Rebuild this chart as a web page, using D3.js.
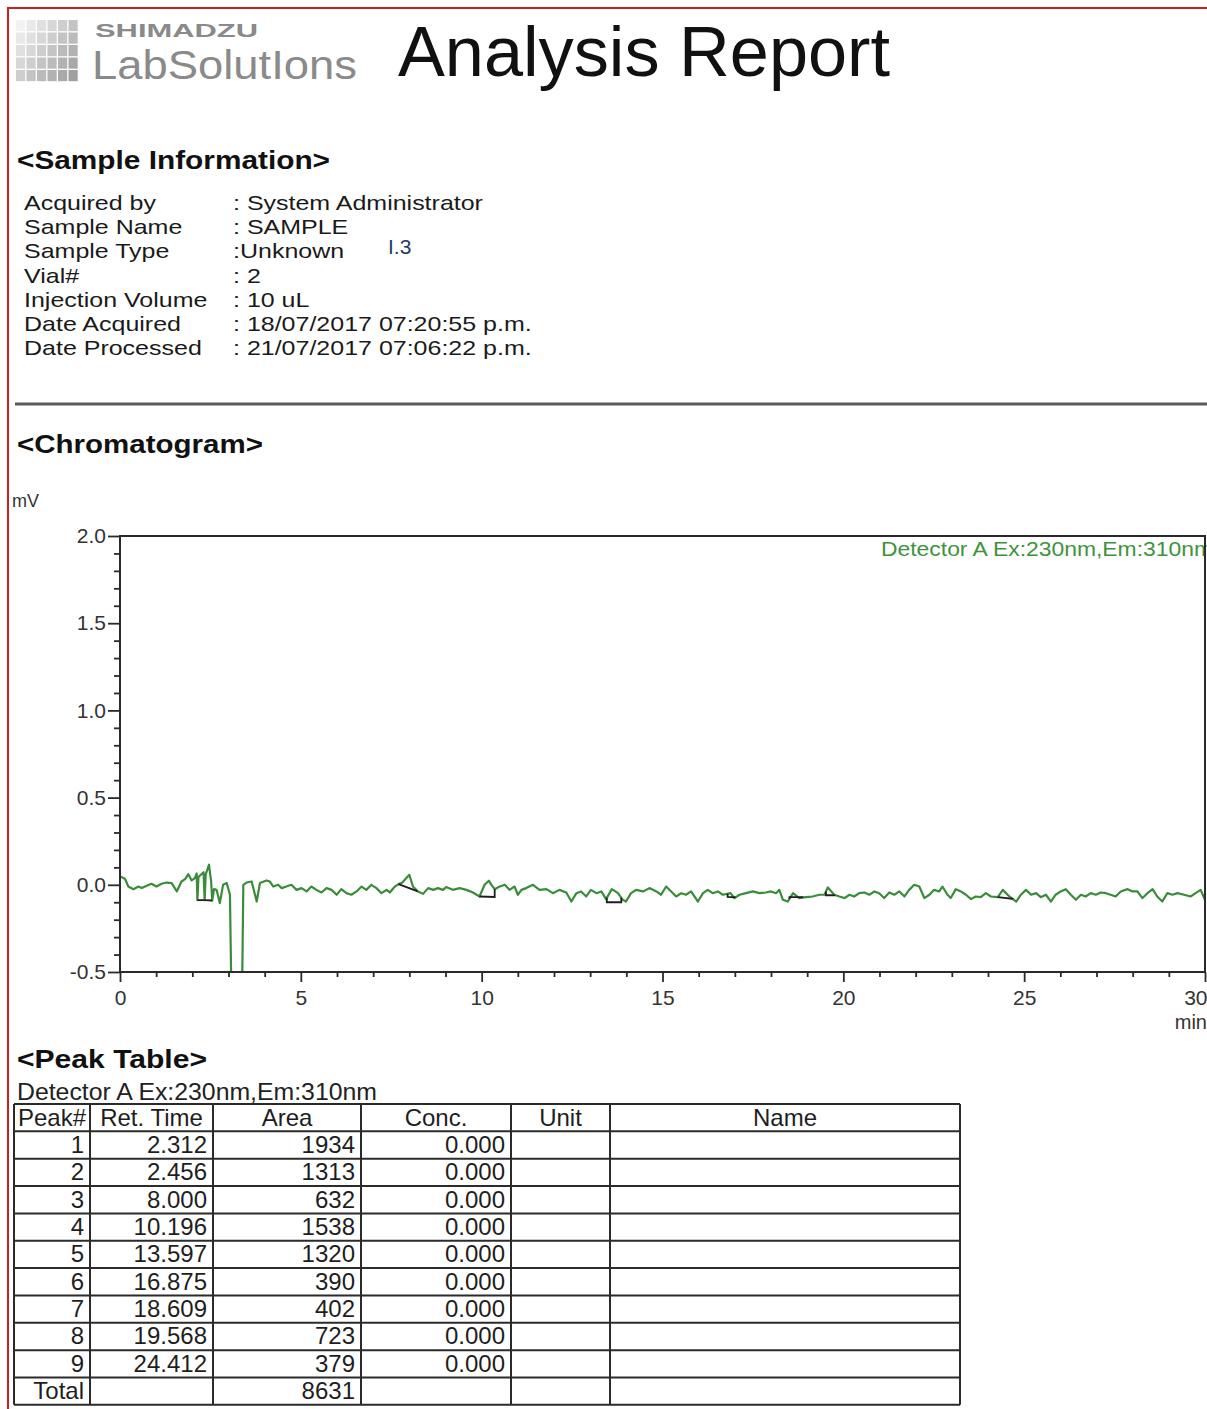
<!DOCTYPE html>
<html>
<head>
<meta charset="utf-8">
<script src="https://cdn.jsdelivr.net/npm/d3@7"></script>
<style>
  body { margin: 0; background: #fff; }
  svg { display: block; font-family: "Liberation Sans", Arial, sans-serif; }
</style>
</head>
<body>
<svg id="page"></svg>
<script>
// sample info
const infoLabels = ["Acquired by", "Sample Name", "Sample Type", "Vial#", "Injection Volume", "Date Acquired", "Date Processed"];
const infoValues = [": System Administrator", ": SAMPLE", ":Unknown", ": 2", ": 10 uL", ": 18/07/2017 07:20:55 p.m.", ": 21/07/2017 07:06:22 p.m."];

// chromatogram axes
const yTicks = [-0.5, 0.0, 0.5, 1.0, 1.5, 2.0];
const xTicks = [0, 5, 10, 15, 20, 25, 30];
const detectorLabel = "Detector A Ex:230nm,Em:310nm";

// trace: [min, mV]
const trace = [
  [0.00,0.045],[0.05,0.044],[0.14,0.033],[0.23,-0.010],[0.37,-0.025],[0.51,-0.010],[0.60,-0.019],[0.74,-0.006],
  [0.87,0.006],[1.01,-0.010],[1.15,0.006],[1.29,0.013],[1.43,0.010],[1.57,-0.038],[1.70,0.019],[1.80,0.033],
  [1.89,0.061],[1.98,0.025],[2.07,0.038],[2.12,0.065],[2.14,-0.088],[2.17,0.045],[2.31,0.072],[2.34,-0.088],
  [2.37,0.060],[2.46,0.115],[2.52,0.020],[2.55,-0.090],[2.60,-0.025],[2.67,-0.029],[2.76,-0.105],[2.85,0.000],
  [2.95,0.010],[3.04,-0.057],[3.10,-0.900],[3.36,-0.900],[3.41,0.000],[3.50,0.013],[3.64,0.019],[3.78,-0.096],
  [3.87,0.010],[4.05,0.025],[4.14,0.019],[4.24,-0.010],[4.37,0.000],[4.47,-0.019],[4.60,-0.010],[4.74,0.000],
  [4.88,-0.029],[5.02,-0.019],[5.16,-0.038],[5.29,-0.010],[5.43,-0.029],[5.57,-0.044],[5.71,-0.019],[5.85,-0.029],
  [5.99,-0.057],[6.12,-0.025],[6.26,-0.048],[6.40,-0.057],[6.54,-0.038],[6.68,-0.010],[6.81,-0.029],[6.95,0.000],
  [7.09,-0.019],[7.23,-0.048],[7.37,-0.029],[7.46,-0.044],[7.60,-0.010],[7.70,0.004],[7.80,0.012],[8.00,0.057],
  [8.10,-0.010],[8.24,-0.038],[8.38,-0.052],[8.52,-0.019],[8.66,-0.029],[8.79,-0.019],[8.93,-0.029],[9.02,-0.013],
  [9.20,-0.029],[9.39,-0.019],[9.58,-0.029],[9.76,-0.044],[9.94,-0.067],[10.08,0.000],[10.20,0.023],[10.27,0.000],
  [10.36,-0.025],[10.50,-0.010],[10.64,0.000],[10.77,-0.029],[10.91,-0.010],[11.00,-0.057],[11.10,-0.029],[11.23,-0.019],
  [11.42,0.000],[11.60,-0.029],[11.79,-0.025],[11.97,-0.048],[12.15,-0.029],[12.34,-0.044],[12.48,-0.096],[12.62,-0.048],
  [12.75,-0.038],[12.89,-0.067],[13.02,-0.029],[13.17,-0.048],[13.31,-0.038],[13.44,-0.082],[13.60,-0.025],[13.77,-0.048],
  [13.90,-0.086],[13.99,-0.096],[14.13,-0.048],[14.27,-0.029],[14.46,-0.038],[14.64,-0.019],[14.83,-0.038],[14.96,-0.057],
  [15.10,-0.010],[15.24,-0.038],[15.38,-0.067],[15.52,-0.048],[15.65,-0.057],[15.79,-0.038],[15.98,-0.096],[16.12,-0.048],
  [16.25,-0.029],[16.39,-0.048],[16.53,-0.038],[16.67,-0.057],[16.88,-0.048],[16.99,-0.076],[17.13,-0.057],[17.31,-0.048],
  [17.50,-0.038],[17.68,-0.048],[17.86,-0.044],[18.00,-0.038],[18.14,-0.048],[18.23,-0.029],[18.33,-0.086],[18.46,-0.096],
  [18.61,-0.048],[18.78,-0.076],[18.97,-0.071],[19.15,-0.067],[19.34,-0.057],[19.48,-0.057],[19.57,-0.015],[19.75,-0.057],
  [19.89,-0.067],[20.03,-0.076],[20.17,-0.057],[20.30,-0.067],[20.44,-0.048],[20.58,-0.044],[20.72,-0.057],[20.86,-0.038],
  [20.99,-0.048],[21.13,-0.076],[21.27,-0.044],[21.41,-0.057],[21.55,-0.038],[21.69,-0.067],[21.82,-0.029],[21.96,0.000],
  [22.10,-0.010],[22.24,-0.076],[22.38,-0.057],[22.51,-0.029],[22.65,-0.038],[22.74,-0.010],[22.88,-0.057],[22.97,-0.076],
  [23.11,-0.025],[23.25,-0.038],[23.39,-0.057],[23.53,-0.082],[23.66,-0.067],[23.80,-0.071],[23.94,-0.048],[24.08,-0.067],
  [24.27,-0.071],[24.41,-0.029],[24.59,-0.067],[24.78,-0.096],[24.91,-0.057],[25.05,-0.029],[25.19,-0.057],[25.33,-0.048],
  [25.46,-0.071],[25.60,-0.057],[25.74,-0.096],[25.87,-0.057],[26.01,-0.038],[26.15,-0.025],[26.29,-0.057],[26.43,-0.086],
  [26.57,-0.057],[26.70,-0.067],[26.84,-0.048],[26.98,-0.057],[27.12,-0.044],[27.26,-0.048],[27.39,-0.057],[27.53,-0.067],
  [27.67,-0.038],[27.86,-0.025],[28.00,-0.038],[28.13,-0.038],[28.27,-0.076],[28.41,-0.048],[28.55,-0.025],[28.68,-0.067],
  [28.82,-0.096],[28.96,-0.048],[29.10,-0.057],[29.24,-0.048],[29.42,-0.057],[29.60,-0.067],[29.74,-0.048],[29.88,-0.029],
  [30.00,-0.086]
];

// integration baselines (black marks)
const peakStart = [2.14, 2.34, 7.70, 9.94, 13.46, 16.80, 18.51, 19.52, 24.27];
const peakEnd   = [2.34, 2.55, 8.20, 10.36, 13.86, 17.00, 18.87, 19.75, 24.68];
const baseStart = [-0.088, -0.088, 0.004, -0.067, -0.100, -0.070, -0.071, -0.060, -0.071];
const baseEnd   = [-0.088, -0.090, -0.035, -0.070, -0.100, -0.072, -0.071, -0.060, -0.080];

// peak table
const peakNo  = [1, 2, 3, 4, 5, 6, 7, 8, 9];
const retTime = [2.312, 2.456, 8.000, 10.196, 13.597, 16.875, 18.609, 19.568, 24.412];
const area    = [1934, 1313, 632, 1538, 1320, 390, 402, 723, 379];
const conc    = [0, 0, 0, 0, 0, 0, 0, 0, 0];
const tableHeaders = ["Peak#", "Ret. Time", "Area", "Conc.", "Unit", "Name"];

let width = 1207, height = 1409;
let svg = d3.select("#page").attr("width", width).attr("height", height);
svg.append("rect").attr("width", width).attr("height", height).attr("fill", "#fff");

// red frame
svg.append("path")
  .attr("d", `M8,${height} V8 H${width}`)
  .attr("fill", "none").attr("stroke", "#c8201e").attr("stroke-width", 2);

// logo
let logo = svg.append("g");
let shade = d3.interpolateRgb("#f2f2f2", "#a0a0a0");
for (let r = 0; r < 5; r++) {
  for (let c = 0; c < 6; c++) {
    logo.append("rect")
      .attr("x", 16 + c * 10.5).attr("y", 20 + r * 12.5)
      .attr("width", 9.2).attr("height", 11.2)
      .attr("fill", shade((c + r) / 9));
  }
}
logo.append("text").attr("x", 95).attr("y", 37)
  .attr("font-size", 19).attr("font-weight", "bold").attr("fill", "#8a8a8a")
  .attr("textLength", 163).attr("lengthAdjust", "spacingAndGlyphs")
  .text("SHIMADZU");
logo.append("text").attr("x", 92).attr("y", 79)
  .attr("font-size", 41).attr("fill", "#8a8a8a")
  .attr("textLength", 265).attr("lengthAdjust", "spacingAndGlyphs")
  .text("LabSolutIons");
svg.append("text").attr("x", 398).attr("y", 76)
  .attr("font-size", 70).attr("fill", "#111")
  .attr("textLength", 492).attr("lengthAdjust", "spacingAndGlyphs")
  .text("Analysis Report");

// section titles
let sectionTitle = (txt, y, len) => svg.append("text")
  .attr("x", 17).attr("y", y)
  .attr("font-size", 26).attr("font-weight", "bold").attr("fill", "#111")
  .attr("textLength", len).attr("lengthAdjust", "spacingAndGlyphs")
  .text(txt);
sectionTitle("<Sample Information>", 169, 313);
sectionTitle("<Chromatogram>", 453, 246);
sectionTitle("<Peak Table>", 1068, 190);

// sample information rows (tight line pitch, so text is widened instead of enlarged)
let rowY = i => 210 + i * 24.2;
let info = svg.append("g").attr("font-size", 21).attr("fill", "#1a1a1a");
info.selectAll("text.lbl")
  .data(infoLabels)
  .join("text").attr("class", "lbl")
  .attr("transform", (d, i) => `translate(24,${rowY(i)}) scale(1.19,1)`)
  .text(d => d);
info.selectAll("text.val")
  .data(infoValues)
  .join("text").attr("class", "val")
  .attr("transform", (d, i) => `translate(233,${rowY(i)}) scale(1.19,1)`)
  .text(d => d);
svg.append("text").attr("x", 388).attr("y", 254)
  .attr("font-size", 21).attr("fill", "#1f3c66").text("I.3");

// divider
svg.append("line").attr("x1", 15).attr("x2", width).attr("y1", 404).attr("y2", 404)
  .attr("stroke", "#5a5a5a").attr("stroke-width", 3);

// chromatogram
let margin = {top: 536, right: 1205, bottom: 972, left: 120};
let x = d3.scaleLinear().domain([0, 30]).range([margin.left, margin.right]);
let y = d3.scaleLinear().domain([-0.5, 2.0]).range([margin.bottom, margin.top]);

svg.append("text").attr("x", 12).attr("y", 507)
  .attr("font-size", 18).attr("fill", "#333").text("mV");

svg.append("clipPath").attr("id", "plotclip")
  .append("rect").attr("x", margin.left).attr("y", margin.top)
  .attr("width", margin.right - margin.left).attr("height", margin.bottom - margin.top);

let line = d3.line().x(d => x(d[0])).y(d => y(d[1]));
svg.append("path")
  .datum(trace)
  .attr("clip-path", "url(#plotclip)")
  .attr("fill", "none")
  .attr("stroke", "#3a8c3a")
  .attr("stroke-width", 2.2)
  .attr("stroke-linejoin", "round")
  .attr("d", line);

// baseline marks for each peak
let traceAt = t => {
  let i = d3.bisector(d => d[0]).left(trace, t);
  if (i <= 0) return trace[0][1];
  if (i >= trace.length) return trace[trace.length - 1][1];
  let a = trace[i - 1], b = trace[i];
  return a[1] + (b[1] - a[1]) * (t - a[0]) / (b[0] - a[0]);
};
svg.append("g")
  .attr("fill", "none").attr("stroke", "#1e1e1e").attr("stroke-width", 1.8)
  .selectAll("path")
  .data(peakStart.map((s, i) => [
    [s, traceAt(s)], [s, baseStart[i]], [peakEnd[i], baseEnd[i]], [peakEnd[i], traceAt(peakEnd[i])]
  ]))
  .join("path")
  .attr("d", line);

svg.append("text")
  .attr("x", 881).attr("y", 556)
  .attr("font-size", 20).attr("fill", "#3d943d")
  .attr("textLength", 332).attr("lengthAdjust", "spacingAndGlyphs")
  .text(detectorLabel);

// frame
svg.append("rect")
  .attr("x", margin.left).attr("y", margin.top)
  .attr("width", margin.right - margin.left).attr("height", margin.bottom - margin.top)
  .attr("fill", "none").attr("stroke", "#2a2a2a").attr("stroke-width", 2);

let yMinor = d3.range(-5, 21).map(v => v / 10).filter(v => !yTicks.some(t => Math.abs(t - v) < 1e-9));
let xMinor = d3.range(0, 31).filter(v => v % 5 !== 0);

let yAxis = g => g
  .attr("transform", `translate(${margin.left},0)`)
  .call(d3.axisLeft(y).tickValues(yTicks).tickSize(12).tickPadding(2).tickFormat(d => d.toFixed(1)))
  .call(g => g.select(".domain").remove());
let yAxisMinor = g => g
  .attr("transform", `translate(${margin.left},0)`)
  .call(d3.axisLeft(y).tickValues(yMinor).tickSize(6).tickFormat(""))
  .call(g => g.select(".domain").remove());
let xAxis = g => g
  .attr("transform", `translate(0,${margin.bottom})`)
  .call(d3.axisBottom(x).tickValues(xTicks).tickSize(10).tickPadding(8))
  .call(g => g.select(".domain").remove())
  .call(g => g.select(".tick:last-of-type text").attr("text-anchor", "end").attr("x", 2));
let xAxisMinor = g => g
  .attr("transform", `translate(0,${margin.bottom})`)
  .call(d3.axisBottom(x).tickValues(xMinor).tickSize(5).tickFormat(""))
  .call(g => g.select(".domain").remove());

[yAxis, yAxisMinor, xAxis, xAxisMinor].forEach(ax => {
  svg.append("g").call(ax)
    .call(g => g.selectAll("line").attr("stroke", "#2a2a2a").attr("stroke-width", 1.8))
    .call(g => g.selectAll("text").attr("font-size", 21).attr("fill", "#333")
      .attr("font-family", "Liberation Sans, Arial, sans-serif"));
});

svg.append("text").attr("x", 1207).attr("y", 1029).attr("text-anchor", "end")
  .attr("font-size", 20).attr("fill", "#333").text("min");

// peak table
svg.append("text").attr("x", 17).attr("y", 1100)
  .attr("font-size", 24).attr("fill", "#222")
  .attr("textLength", 360).attr("lengthAdjust", "spacingAndGlyphs")
  .text(detectorLabel);

let colEdges = [14, 90, 213, 361, 511, 610, 960];
let rowTop = 1104, rowH = 27.35;
let rows = peakNo.map((p, i) => [String(p), retTime[i].toFixed(3), String(area[i]), conc[i].toFixed(3), "", ""]);
rows.push(["Total", "", String(d3.sum(area)), "", "", ""]);

let table = svg.append("g");
let nRows = rows.length + 1;
table.append("g").attr("stroke", "#2b2b2b").attr("stroke-width", 2)
  .call(g => g.selectAll("line.h")
    .data(d3.range(nRows + 1))
    .join("line").attr("class", "h")
    .attr("x1", colEdges[0]).attr("x2", colEdges[colEdges.length - 1])
    .attr("y1", d => rowTop + d * rowH).attr("y2", d => rowTop + d * rowH))
  .call(g => g.selectAll("line.v")
    .data(colEdges)
    .join("line").attr("class", "v")
    .attr("x1", d => d).attr("x2", d => d)
    .attr("y1", rowTop).attr("y2", rowTop + nRows * rowH));

table.append("g").attr("font-size", 24).attr("fill", "#1e1e1e").attr("text-anchor", "middle")
  .selectAll("text")
  .data(tableHeaders)
  .join("text")
  .attr("x", (d, i) => (colEdges[i] + colEdges[i + 1]) / 2)
  .attr("y", rowTop + 21.5)
  .text(d => d);

table.append("g").attr("font-size", 24).attr("fill", "#1e1e1e").attr("text-anchor", "end")
  .selectAll("g")
  .data(rows)
  .join("g")
  .attr("transform", (d, i) => `translate(0,${rowTop + (i + 1) * rowH + 21.5})`)
  .selectAll("text")
  .data(d => d)
  .join("text")
  .attr("x", (d, i) => colEdges[i + 1] - 6)
  .text(d => d);
</script>
</body>
</html>
